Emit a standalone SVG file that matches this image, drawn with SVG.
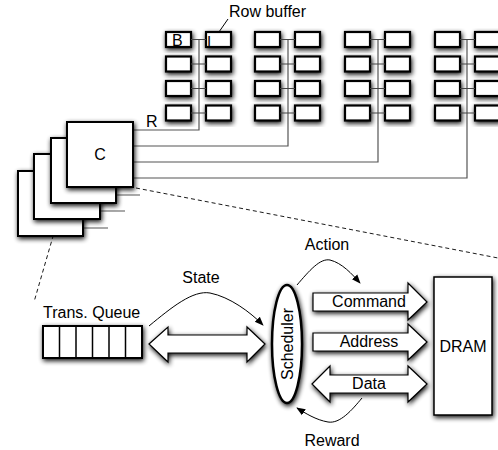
<svg xmlns="http://www.w3.org/2000/svg" width="498" height="450" viewBox="0 0 498 450">
<defs>
<filter id="sh" x="-40%" y="-40%" width="180%" height="180%">
<feGaussianBlur in="SourceAlpha" stdDeviation="2.6"/>
<feOffset dx="1" dy="2" result="b"/>
<feComponentTransfer><feFuncA type="linear" slope="0.95"/></feComponentTransfer>
<feMerge><feMergeNode/><feMergeNode in="SourceGraphic"/></feMerge>
</filter>
<marker id="ah" viewBox="0 0 10 10" refX="9" refY="5" markerWidth="9" markerHeight="9" orient="auto" markerUnits="userSpaceOnUse">
<path d="M0,1 L10,5 L0,9 Z" fill="#000"/>
</marker>
<g id="bank">
<rect class="cell" x="0" y="0" width="25" height="15"/>
<rect class="cell" x="40" y="0" width="25" height="15"/>
<rect class="cell" x="0" y="24.5" width="25" height="15"/>
<rect class="cell" x="40" y="24.5" width="25" height="15"/>
<rect class="cell" x="0" y="49" width="25" height="15"/>
<rect class="cell" x="40" y="49" width="25" height="15"/>
<rect class="cell" x="0" y="73.5" width="25" height="15"/>
<rect class="cell" x="40" y="73.5" width="25" height="15"/>
<path class="bus" d="M25,7.5 H40 M25,32 H40 M25,56.5 H40 M25,81 H40"/>
</g>
</defs>
<style>
.cell{fill:#fff;stroke:#000;stroke-width:2.2;filter:url(#sh)}
.bus{fill:none;stroke:#444;stroke-width:1.2}
.sq{fill:#fff;stroke:#000;stroke-width:2;filter:url(#sh)}
.ln{fill:none;stroke:#555;stroke-width:1.2}
.dash{fill:none;stroke:#000;stroke-width:0.9;stroke-dasharray:4 3}
.arr{fill:#fff;stroke:#000;stroke-width:1.2;filter:url(#sh)}
.crv{fill:none;stroke:#000;stroke-width:1;marker-end:url(#ah)}
text{font-family:"Liberation Sans",Arial,sans-serif;font-size:16px;fill:#000}
.mid{text-anchor:middle}
</style>

<g id="connectors">
<path class="ln" d="M133,130 H199 V40 M133,146 H288 V40 M133,162 H378 V40 M133,178 H467 V40"/>
<path class="ln" d="M116,195 H140 M100,211 H125 M83,228 H108"/>
<path class="dash" d="M136,188 L498,258"/>
<path class="dash" d="M67,188 L34,302"/>
<path class="crv" d="M149,326 C172,307 193,290 210,293 C230,297 250,312 263,325"/>
<path class="crv" d="M297,285 C309,271 320,258 330,260 C342,263 352,274 360,283"/>
<path class="crv" d="M362,398 C352,410 340,424 328,422 C316,420 305,413 297,408"/>
<path d="M228,19 L212,42" fill="none" stroke="#000" stroke-width="1" marker-end="url(#ah)"/>
</g>

<g id="bank1"><use href="#bank" x="166" y="32"/><text x="172" y="46" style="font-size:16px">B</text><text x="207" y="46" style="font-size:15px">I</text></g>
<g id="bank2"><use href="#bank" x="255" y="32"/></g>
<g id="bank3"><use href="#bank" x="345" y="32"/></g>
<g id="bank4"><use href="#bank" x="435" y="32"/></g>
<g id="rowbuffer-label"><text x="229" y="17">Row buffer</text></g>
<g id="r-label"><text x="146" y="127">R</text></g>

<g id="controllers">
<rect class="sq" x="18" y="171" width="65" height="65"/>
<rect class="sq" x="34" y="154" width="66" height="65"/>
<rect class="sq" x="51" y="138" width="65" height="65"/>
<rect class="sq" x="67" y="122" width="66" height="65"/>
<text class="mid" x="100" y="160">C</text>
</g>

<g id="queue">
<text x="43" y="318">Trans. Queue</text>
<rect x="43" y="326" width="99" height="32" fill="#fff" stroke="#000" stroke-width="2" filter="url(#sh)"/>
<path d="M59.5,326 V358 M76,326 V358 M92.5,326 V358 M109,326 V358 M125.5,326 V358" stroke="#000" stroke-width="1.5"/>
</g>

<g id="state-arrow">
<path class="arr" d="M149,344 L168,327 L168,335 L247,335 L247,327 L265,344 L247,362 L247,353 L168,353 L168,362 Z"/>
<text class="mid" x="201" y="283">State</text>
</g>

<g id="scheduler">
<ellipse cx="287" cy="344" rx="15" ry="59" fill="#fff" stroke="#000" stroke-width="2.5" filter="url(#sh)"/>
<text class="mid" transform="translate(293,344) rotate(-90)">Scheduler</text>
</g>

<g id="command"><path class="arr" d="M313,293 L408,293 L408,283 L427,302 L408,320 L408,311 L313,311 Z"/><text class="mid" x="369" y="307">Command</text></g>
<g id="address"><path class="arr" d="M313,333 L408,333 L408,324 L427,342 L408,360 L408,351 L313,351 Z"/><text class="mid" x="369" y="347">Address</text></g>
<g id="data"><path class="arr" d="M312,384 L330,366 L330,375 L408,375 L408,366 L427,384 L408,402 L408,393 L330,393 L330,402 Z"/><text class="mid" x="369" y="389">Data</text></g>

<g id="dram"><rect x="434" y="277" width="58" height="138" fill="#fff" stroke="#000" stroke-width="1.5" filter="url(#sh)"/><text class="mid" x="463" y="352">DRAM</text></g>

<g id="labels">
<text class="mid" x="327" y="250">Action</text>
<text class="mid" x="332" y="446">Reward</text>
</g>
</svg>
